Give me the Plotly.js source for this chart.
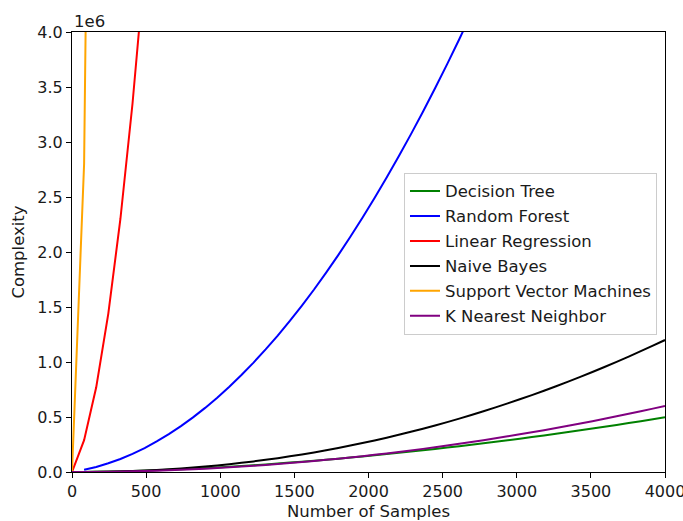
<!DOCTYPE html>
<html>
<head>
<meta charset="utf-8">
<script src="https://cdn.plot.ly/plotly-3.0.1.min.js"></script>
<style>html,body{margin:0;padding:0;background:#fff;}#chart{width:683px;height:521px;}</style>
</head>
<body>
<div id="chart"></div>
<script>
// Number of samples (x positions of the plotted points)
var samples = [0, 81.6, 163.3, 244.9, 326.5, 408.2, 489.8, 571.4, 653.1, 734.7,
  816.3, 898.0, 979.6, 1061.2, 1142.9, 1224.5, 1306.1, 1387.8, 1469.4, 1551.0,
  1632.7, 1714.3, 1795.9, 1877.6, 1959.2, 2040.8, 2122.4, 2204.1, 2285.7, 2367.3,
  2449.0, 2530.6, 2612.2, 2693.9, 2775.5, 2857.1, 2938.8, 3020.4, 3102.0, 3183.7,
  3265.3, 3346.9, 3428.6, 3510.2, 3591.8, 3673.5, 3755.1, 3836.7, 3918.4, 4000];

// Complexity values, in units of 1e6
var decisionTree = [0, 0.0005, 0.0018, 0.0036, 0.0060, 0.0089, 0.0123, 0.0162, 0.0205, 0.0252,
  0.0303, 0.0358, 0.0418, 0.0481, 0.0548, 0.0619, 0.0693, 0.0771, 0.0853, 0.0938,
  0.1027, 0.1119, 0.1214, 0.1313, 0.1415, 0.1521, 0.1629, 0.1741, 0.1856, 0.1975,
  0.2096, 0.2220, 0.2348, 0.2479, 0.2613, 0.2749, 0.2889, 0.3031, 0.3177, 0.3326,
  0.3478, 0.3632, 0.3789, 0.3949, 0.4112, 0.4279, 0.4447, 0.4618, 0.4793, 0.4970];

var randomForest = [null, 0.0197, 0.0460, 0.0790, 0.1186, 0.1649, 0.2179, 0.2776, 0.3439, 0.4168,
  0.4965, 0.5828, 0.6757, 0.7754, 0.8817, 0.9946, 1.1142, 1.2405, 1.3735, 1.5131,
  1.6593, 1.8123, 1.9719, 2.1381, 2.3111, 2.4907, 2.6769, 2.8699, 3.0694, 3.2757,
  3.4886, 3.7082, 3.9344, 4.1673];

var linearRegression = [0, 0.29, 0.77, 1.44, 2.30, 3.35, 4.59];

var naiveBayes = [0, 0.0003, 0.0012, 0.0030, 0.0056, 0.0091, 0.0134, 0.0187, 0.0250, 0.0322,
  0.0404, 0.0496, 0.0598, 0.0709, 0.0831, 0.0964, 0.1107, 0.1260, 0.1423, 0.1598,
  0.1783, 0.1978, 0.2185, 0.2402, 0.2630, 0.2870, 0.3120, 0.3381, 0.3653, 0.3936,
  0.4231, 0.4537, 0.4854, 0.5182, 0.5522, 0.5873, 0.6235, 0.6609, 0.6994, 0.7391,
  0.7799, 0.8219, 0.8650, 0.9093, 0.9548, 1.0014, 1.0492, 1.0982, 1.1484, 1.1997];

var supportVectorMachines = [0, 2.8, 12.5];

var kNearestNeighbor = [0, 0.00025, 0.0010, 0.00225, 0.0040, 0.00625, 0.0090, 0.01225, 0.0160, 0.02025,
  0.0250, 0.03025, 0.0360, 0.04225, 0.0490, 0.05625, 0.0640, 0.07225, 0.0810, 0.09025,
  0.1000, 0.11025, 0.1210, 0.13225, 0.1440, 0.15625, 0.1690, 0.18225, 0.1960, 0.21025,
  0.2250, 0.24025, 0.2560, 0.27225, 0.2890, 0.30625, 0.3240, 0.34225, 0.3610, 0.38025,
  0.4000, 0.42025, 0.4410, 0.46225, 0.4840, 0.50625, 0.5290, 0.55225, 0.5760, 0.60025];

var seriesNames = ['Decision Tree', 'Random Forest', 'Linear Regression', 'Naive Bayes',
  'Support Vector Machines', 'K Nearest Neighbor'];
var seriesValues = [decisionTree, randomForest, linearRegression, naiveBayes,
  supportVectorMachines, kNearestNeighbor];
var seriesColors = ['#008000', '#0000ff', '#ff0000', '#000000', '#ffa500', '#800080'];

var xTicks = [0, 500, 1000, 1500, 2000, 2500, 3000, 3500, 4000];
var yTicks = [0, 0.5, 1.0, 1.5, 2.0, 2.5, 3.0, 3.5, 4.0];
var yTickText = ['0.0', '0.5', '1.0', '1.5', '2.0', '2.5', '3.0', '3.5', '4.0'];

var FONT = 'DejaVu Sans, sans-serif';
var TXT = '#1a1a1a';

var traces = seriesNames.map(function (name, k) {
  var vals = seriesValues[k];
  return {
    type: 'scatter',
    mode: 'lines',
    name: name,
    legendgroup: 'g' + k,
    x: samples.slice(0, vals.length),
    y: vals,
    line: {color: seriesColors[k], width: 2, simplify: false},
    connectgaps: false,
    hoverinfo: 'none'
  };
});

var axisCommon = {
  showgrid: false,
  zeroline: false,
  showline: true,
  linecolor: '#000',
  linewidth: 1,
  mirror: true,
  ticks: 'outside',
  ticklen: 5,
  tickwidth: 1,
  tickcolor: '#000',
  automargin: false,
  ticklabeloverflow: 'allow',
  tickfont: {family: FONT, size: 16, color: TXT}
};

var layout = {
  width: 683,
  height: 521,
  margin: {l: 72, r: 18, t: 32, b: 49},
  paper_bgcolor: '#fff',
  plot_bgcolor: '#fff',
  font: {family: FONT, size: 16, color: TXT},
  showlegend: true,
  xaxis: Object.assign({}, axisCommon, {
    range: [0, 4000],
    tickvals: xTicks,
    ticktext: xTicks.map(String),
    title: {text: 'Number of Samples', font: {family: FONT, size: 16.5, color: TXT}, standoff: 7}
  }),
  yaxis: Object.assign({}, axisCommon, {
    range: [0, 4],
    tickvals: yTicks,
    ticktext: yTickText,
    title: {text: 'Complexity', font: {family: FONT, size: 16.5, color: TXT}, standoff: 8}
  }),
  legend: {
    x: 0.9865, xanchor: 'right',
    y: 0.68, yanchor: 'top',
    bgcolor: 'rgba(255,255,255,0.8)',
    bordercolor: '#cccccc',
    borderwidth: 1,
    font: {family: FONT, size: 16.5, color: TXT},
    tracegroupgap: 0.5,
    traceorder: 'grouped'
  },
  annotations: [{
    text: '1e6', xref: 'paper', yref: 'paper', x: 0, y: 1,
    xanchor: 'left', yanchor: 'bottom', showarrow: false, yshift: -1,
    font: {family: FONT, size: 16.5, color: TXT}
  }]
};

Plotly.newPlot('chart', traces, layout, {displayModeBar: false, staticPlot: true});
</script>
</body>
</html>
